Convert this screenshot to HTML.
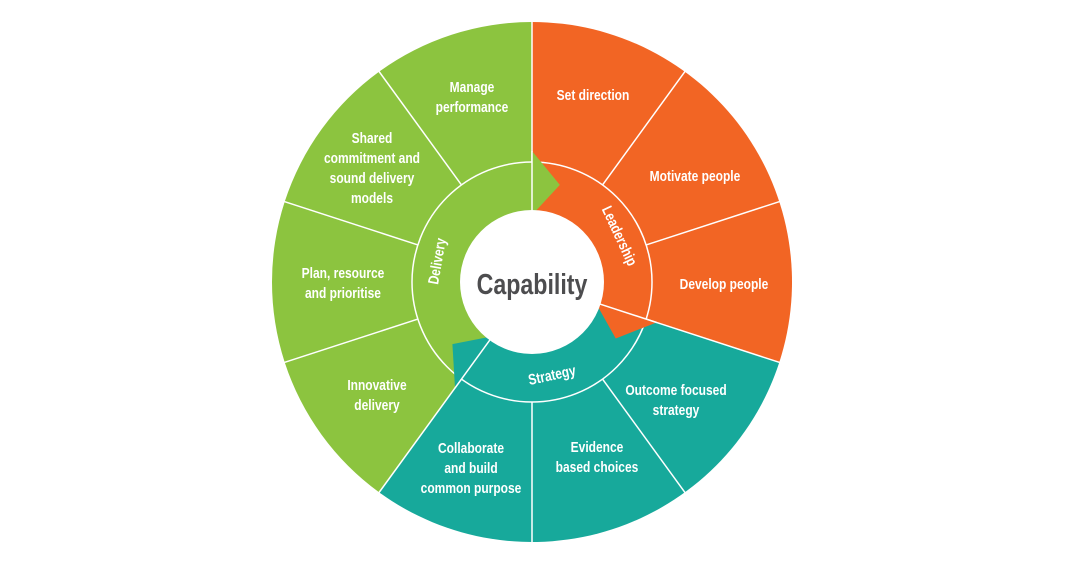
<!DOCTYPE html>
<html><head><meta charset="utf-8"><style>
html,body{margin:0;padding:0;background:#fff}
svg{display:block}
text{font-family:"Liberation Sans Narrow","Liberation Sans",sans-serif;fill:#fff;text-anchor:middle;font-size:15px;font-weight:bold}
</style></head><body>
<svg id="s" width="1065" height="566" viewBox="0 0 1065 566">
<g id="shapes"></g>
<g id="labels">
<text x="472" y="92">Manage</text><text x="472" y="112">performance</text>
<text x="372" y="143">Shared</text><text x="372" y="163">commitment and</text><text x="372" y="183">sound delivery</text><text x="372" y="203">models</text>
<text x="343" y="278">Plan, resource</text><text x="343" y="298">and prioritise</text>
<text x="377" y="390">Innovative</text><text x="377" y="410">delivery</text>
<text x="471" y="453">Collaborate</text><text x="471" y="473">and build</text><text x="471" y="493">common purpose</text>
<text x="597" y="452">Evidence</text><text x="597" y="472">based choices</text>
<text x="676" y="395">Outcome focused</text><text x="676" y="415">strategy</text>
<text x="724" y="289">Develop people</text>
<text x="695" y="181">Motivate people</text>
<text x="593" y="100">Set direction</text>
<text x="532" y="294" style="fill:#4d4d4f;font-size:29px">Capability</text>
</g>
<g>
<text transform="translate(442,262) rotate(-80) scale(0.8,1)" font-size="15">Delivery</text>
<text transform="translate(615,238) rotate(65) scale(0.8,1)" font-size="15">Leadership</text>
<text transform="translate(553,380) rotate(-12) scale(0.8,1)" font-size="15">Strategy</text>
</g>
</svg>
<script>
var cx=532,cy=282,R=260,ns="http://www.w3.org/2000/svg",g=document.getElementById('shapes');
function P(r,a){a=a*Math.PI/180;return [cx+r*Math.sin(a),cy-r*Math.cos(a)];}
function el(t,at){var e=document.createElementNS(ns,t);for(var k in at)e.setAttribute(k,at[k]);g.appendChild(e);return e;}
var G="#8cc43f",O="#f26524",T="#17a99b";
function sector(a0,a1,c){var p0=P(R,a0),p1=P(R,a1);el('path',{d:'M'+cx+','+cy+'L'+p0+'A'+R+','+R+' 0 '+((a1-a0)>180?1:0)+' 1 '+p1+'Z',fill:c});}
sector(0,108,O);sector(108,216,T);sector(216,360,G);
for(var i=0;i<10;i++){var a=i*36;el('line',{x1:P(120,a)[0],y1:P(120,a)[1],x2:P(262,a)[0],y2:P(262,a)[1],stroke:'#fff','stroke-width':1.5});}
el('circle',{cx:cx,cy:cy,r:120,fill:'none',stroke:'#fff','stroke-width':1.5});
function head(a,c){var b1=P(131,a),b2=P(67,a),t=P(101,a+16);el('path',{d:'M'+b1+'L'+t+'L'+b2+'Z',fill:c});el('line',{x1:b1[0],y1:b1[1],x2:b2[0],y2:b2[1],stroke:'#fff','stroke-width':1.5});}
head(0,G);head(108,O);head(216,T);
el('circle',{cx:cx,cy:cy,r:72,fill:'#fff'});
var ts=document.querySelectorAll('#labels text');
for(var j=0;j<ts.length;j++){var x=ts[j].getAttribute('x');ts[j].setAttribute('transform','translate('+x+',0) scale(0.8,1) translate('+(-x)+',0)');}
</script>
</body></html>
